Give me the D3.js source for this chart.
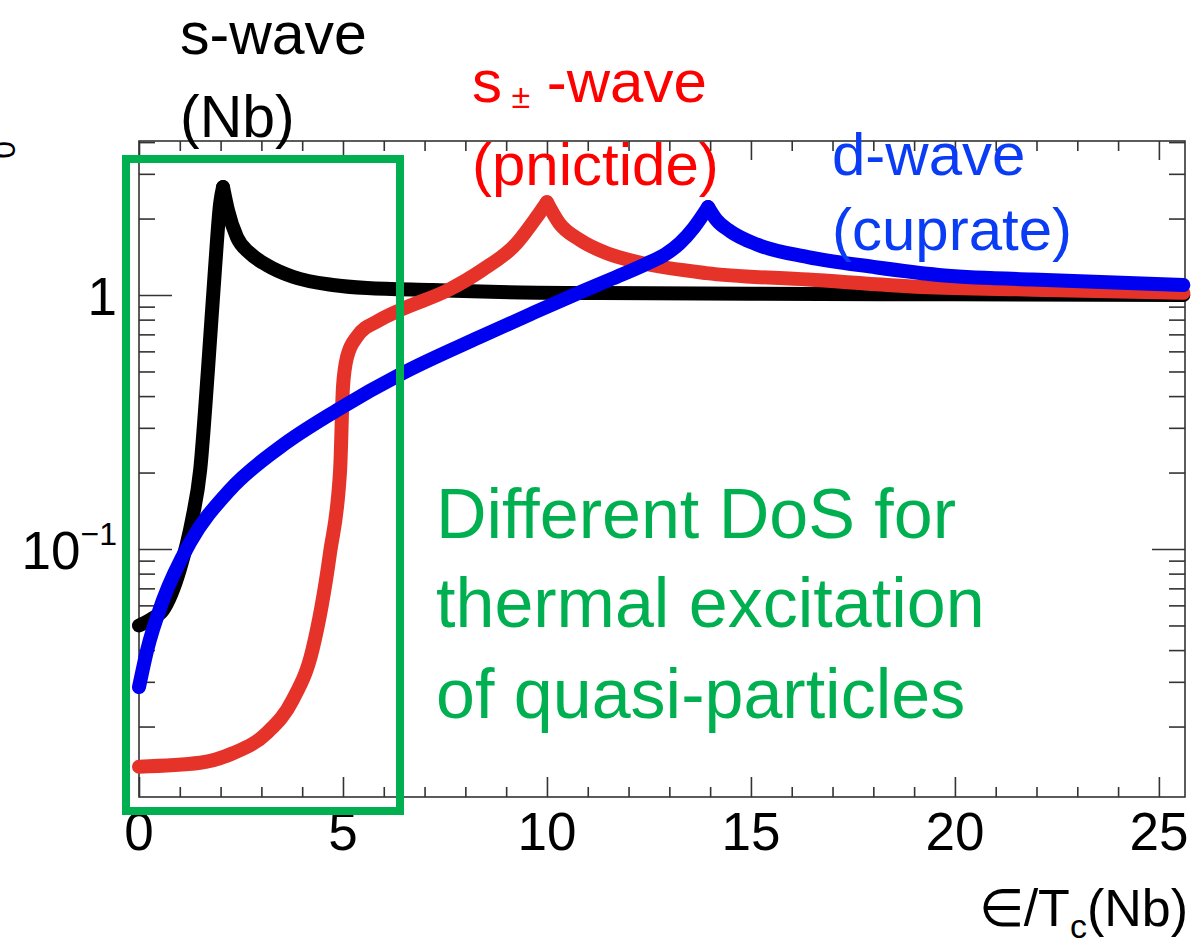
<!DOCTYPE html>
<html>
<head>
<meta charset="utf-8">
<script src="https://d3js.org/d3.v7.min.js"></script>
<style>
  body { margin: 0; background: #fff; }
  svg text { font-family: "Liberation Sans", Arial, Helvetica, sans-serif; }
</style>
</head>
<body>
<svg width="1199" height="944"></svg>
<script>
// energy in units of Tc(Nb), normalised density of states
const sWave = [[0, 0.050], [0.3, 0.053], [0.59, 0.0575], [1.0, 0.083], [1.3, 0.13], [1.5, 0.205],
    [1.69, 0.507], [1.86, 1.25], [1.99, 2.3], [2.06, 2.66], [2.18, 2.16], [2.4, 1.69], [2.72, 1.46],
    [3.14, 1.31], [3.77, 1.18], [4.75, 1.095], [5.59, 1.065], [7.2, 1.046], [8.85, 1.028], [11.3, 1.018],
    [15, 1.012], [20, 1.006], [25.6, 1.0]];

const spmWave = [[0, 0.0139], [1.5, 0.0144], [2.3, 0.0157], [3.14, 0.0189], [3.77, 0.0255], [4.25, 0.040],
    [4.68, 0.096], [4.93, 0.205], [5.0, 0.434], [5.1, 0.57], [5.34, 0.684], [5.9, 0.797], [6.4, 0.873],
    [7.6, 1.05], [8.4, 1.25], [9.26, 1.60], [9.75, 2.03], [10.0, 2.32], [10.3, 1.92], [10.8, 1.65],
    [11.47, 1.46], [12.3, 1.34], [13.9, 1.22], [16.4, 1.15], [19.2, 1.075], [21.9, 1.05], [25.6, 1.02]];

const dWave = [[0, 0.0286], [0.2, 0.040], [0.59, 0.063], [1.25, 0.106], [2.23, 0.171], [3.46, 0.252],
    [4.85, 0.352], [6.47, 0.493], [8.36, 0.684], [9.6, 0.841], [10.8, 1.023], [11.6, 1.16], [12.45, 1.33],
    [12.9, 1.445], [13.26, 1.60], [13.6, 1.84], [13.95, 2.22], [14.15, 1.98], [14.5, 1.78], [15.15, 1.58],
    [16.4, 1.41], [18.0, 1.29], [19.6, 1.20], [21.9, 1.15], [25.6, 1.095]];

const xMajor = [0, 5, 10, 15, 20, 25];
const xMinor = [1, 2, 3, 4, 6, 7, 8, 9, 11, 12, 13, 14, 16, 17, 18, 19, 21, 22, 23, 24];
const yMajor = [0.1, 1];
const yMinor = [0.02, 0.03, 0.04, 0.05, 0.06, 0.07, 0.08, 0.09, 0.2, 0.3, 0.4, 0.5, 0.6, 0.7, 0.8, 0.9, 2, 3, 4];
const yLabels = [{ v: 0.1, base: "10", exp: "\u22121" }, { v: 1, base: "1", exp: "" }];

let svg = d3.select("svg"),
    plotLeft = 139,
    plotRight = 1185,
    plotTop = 141,
    plotBottom = 797;

let x = d3.scaleLinear().domain([0, 25.64]).range([plotLeft, plotRight]),
    y = d3.scaleLog().domain([0.01056, 4.04]).range([plotBottom, plotTop]);

const axisColor = "#333";

// plot frame
svg.append("rect")
    .attr("x", plotLeft).attr("y", plotTop)
    .attr("width", plotRight - plotLeft).attr("height", plotBottom - plotTop)
    .attr("fill", "none").attr("stroke", axisColor).attr("stroke-width", 1.6);

function tickGroup(axis, tx, ty) {
    let g = svg.append("g").attr("transform", `translate(${tx},${ty})`).call(axis);
    g.select(".domain").remove();
    g.selectAll("line").attr("stroke", axisColor).attr("stroke-width", 1.6);
    g.selectAll("text").remove();
    return g;
}

// x ticks, bottom and top, pointing inside
tickGroup(d3.axisBottom(x).tickValues(xMajor).tickSize(-20), 0, plotBottom);
tickGroup(d3.axisBottom(x).tickValues(xMinor).tickSize(-10), 0, plotBottom);
tickGroup(d3.axisTop(x).tickValues(xMajor).tickSize(-19), 0, plotTop);
tickGroup(d3.axisTop(x).tickValues(xMinor).tickSize(-10), 0, plotTop);
// y ticks, left and right
tickGroup(d3.axisLeft(y).tickValues(yMajor).tickSize(-33), plotLeft, 0);
tickGroup(d3.axisLeft(y).tickValues(yMinor).tickSize(-16), plotLeft, 0);
tickGroup(d3.axisRight(y).tickValues(yMajor).tickSize(-33), plotRight, 0);
tickGroup(d3.axisRight(y).tickValues(yMinor).tickSize(-16), plotRight, 0);

// tick labels
svg.append("g").selectAll("text")
    .data(xMajor)
    .enter()
    .append("text")
    .attr("x", d => x(d))
    .attr("y", 850)
    .attr("text-anchor", "middle")
    .style("font-size", "53px")
    .text(d => d);

let yl = svg.append("g").selectAll("text")
    .data(yLabels)
    .enter()
    .append("text")
    .attr("x", 117)
    .attr("y", d => y(d.v) + 20)
    .attr("text-anchor", "end")
    .style("font-size", "53px");
yl.append("tspan").text(d => d.base);
yl.append("tspan")
    .attr("dy", -24)
    .style("font-size", "32px")
    .text(d => d.exp);

// axis title
let xt = svg.append("text")
    .attr("x", 1188)
    .attr("y", 926)
    .attr("text-anchor", "end")
    .style("font-size", "52px");
xt.append("tspan").text("\u2208/T");
xt.append("tspan").attr("dy", 12).style("font-size", "34px").text("c");
xt.append("tspan").attr("dy", -12).text("(Nb)");

// y title, mostly outside the picture: only the subscript shows
let yt = svg.append("text")
    .attr("transform", "translate(-16,141) rotate(-90)")
    .attr("text-anchor", "end")
    .style("font-size", "50px");
yt.append("tspan").text("N(\u2208)/N");
yt.append("tspan").attr("dy", 31).style("font-size", "32px").text("0");

// curves, split at the coherence peak so the cusp stays sharp
let line = d3.line()
    .x(d => x(d[0]))
    .y(d => y(d[1]))
    .curve(d3.curveMonotoneX);

const series = [
    { data: sWave, color: "#000000" },
    { data: spmWave, color: "#e5332a" },
    { data: dWave, color: "#0000f0" }
];

series.forEach(s => {
    let i = d3.maxIndex(s.data, d => d[1]);
    [s.data.slice(0, i + 1), s.data.slice(i)].forEach(part => {
        svg.append("path")
            .attr("d", line(part))
            .attr("fill", "none")
            .attr("stroke", s.color)
            .attr("stroke-width", 14)
            .attr("stroke-linecap", "round")
            .attr("stroke-linejoin", "round");
    });
});

// green highlight box
svg.append("rect")
    .attr("x", 126).attr("y", 159)
    .attr("width", 274).attr("height", 652)
    .attr("fill", "none")
    .attr("stroke", "#00b050")
    .attr("stroke-width", 8);

// annotations
function label(lines, color, size) {
    lines.forEach(l => {
        let t = svg.append("text")
            .attr("x", l.x).attr("y", l.y)
            .attr("fill", color)
            .style("font-size", size + "px");
        l.parts.forEach(p => {
            let ts = t.append("tspan").text(p.t);
            if (p.size) ts.style("font-size", p.size + "px");
            if (p.dy) ts.attr("dy", p.dy);
        });
    });
}

label([
    { x: 180, y: 54, parts: [{ t: "s-wave" }] },
    { x: 180, y: 137, parts: [{ t: "(Nb)" }] }
], "#000", 59);

label([
    { x: 472, y: 102, parts: [{ t: "s" }, { t: " \u00b1", size: 34, dy: 6 }, { t: " -wave", dy: -6 }] },
    { x: 472, y: 185, parts: [{ t: "(pnictide)" }] }
], "#ff0000", 60);

label([
    { x: 832, y: 175, parts: [{ t: "d-wave" }] },
    { x: 832, y: 250, parts: [{ t: "(cuprate)" }] }
], "#0a3cf5", 60);

label([
    { x: 436, y: 538, parts: [{ t: "Different DoS for" }] },
    { x: 436, y: 627, parts: [{ t: "thermal excitation" }] },
    { x: 436, y: 718, parts: [{ t: "of quasi-particles" }] }
], "#00b050", 70);
</script>
</body>
</html>
